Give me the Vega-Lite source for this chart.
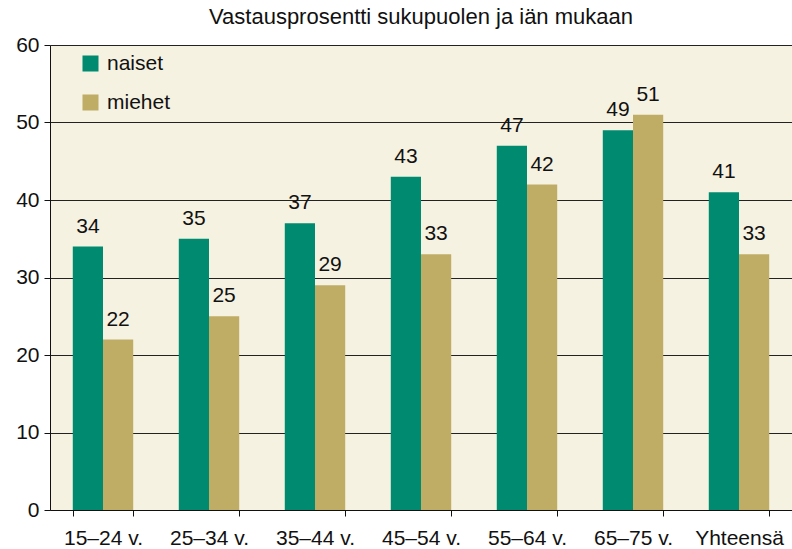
{
  "$schema": "https://vega.github.io/schema/vega-lite/v6.json",
  "width": 742,
  "height": 465,
  "autosize": "none",
  "padding": {"left": 50, "top": 45, "right": 0, "bottom": 39},
  "background": "white",
  "view": {"fill": "#F5F2E2", "stroke": null},
  "config": {"font": "Liberation Sans"},
  "title": {"text": "Vastausprosentti sukupuolen ja iän mukaan", "fontSize": 22, "fontWeight": "normal", "color": "#111", "offset": 5, "anchor": "middle"},
  "data": {"values": [
    {"ika": "15–24 v.", "sukupuoli": "naiset", "arvo": 34},
    {"ika": "15–24 v.", "sukupuoli": "miehet", "arvo": 22},
    {"ika": "25–34 v.", "sukupuoli": "naiset", "arvo": 35},
    {"ika": "25–34 v.", "sukupuoli": "miehet", "arvo": 25},
    {"ika": "35–44 v.", "sukupuoli": "naiset", "arvo": 37},
    {"ika": "35–44 v.", "sukupuoli": "miehet", "arvo": 29},
    {"ika": "45–54 v.", "sukupuoli": "naiset", "arvo": 43},
    {"ika": "45–54 v.", "sukupuoli": "miehet", "arvo": 33},
    {"ika": "55–64 v.", "sukupuoli": "naiset", "arvo": 47},
    {"ika": "55–64 v.", "sukupuoli": "miehet", "arvo": 42},
    {"ika": "65–75 v.", "sukupuoli": "naiset", "arvo": 49},
    {"ika": "65–75 v.", "sukupuoli": "miehet", "arvo": 51},
    {"ika": "Yhteensä", "sukupuoli": "naiset", "arvo": 41},
    {"ika": "Yhteensä", "sukupuoli": "miehet", "arvo": 33}
  ]},
  "encoding": {
    "x": {"field": "ika", "type": "nominal", "sort": null,
      "scale": {"paddingInner": 0.43, "paddingOuter": 0.215},
      "axis": {"title": null, "labelAngle": 0, "labelFontSize": 21, "labelColor": "#111", "domainColor": "#111", "tickColor": "#111", "tickSize": 6, "tickBand": "extent", "labelPadding": 11, "grid": false}},
    "xOffset": {"field": "sukupuoli", "type": "nominal", "sort": ["naiset", "miehet"]},
    "y": {"field": "arvo", "type": "quantitative",
      "scale": {"domain": [0, 60], "nice": false},
      "axis": {"title": null, "values": [0, 10, 20, 30, 40, 50, 60], "labelFontSize": 21, "labelColor": "#111", "domainColor": "#111", "tickColor": "#111", "tickSize": 6, "labelPadding": 5, "grid": true, "gridColor": "#222", "gridOpacity": 1}}
  },
  "layer": [
    {"mark": {"type": "bar"},
      "encoding": {"color": {"field": "sukupuoli", "type": "nominal",
        "scale": {"domain": ["naiset", "miehet"], "range": ["#008A6F", "#BFAD65"]},
        "legend": {"title": null, "orient": "none", "legendX": 30, "legendY": 8, "symbolType": "square", "symbolSize": 256, "symbolStrokeWidth": 0, "labelFontSize": 21, "labelColor": "#111", "labelOffset": 6, "rowPadding": 17}}}},
    {"mark": {"type": "text", "baseline": "alphabetic", "dy": -14, "fontSize": 21, "color": "#111"},
      "encoding": {"text": {"field": "arvo", "type": "quantitative"}}}
  ]
}
